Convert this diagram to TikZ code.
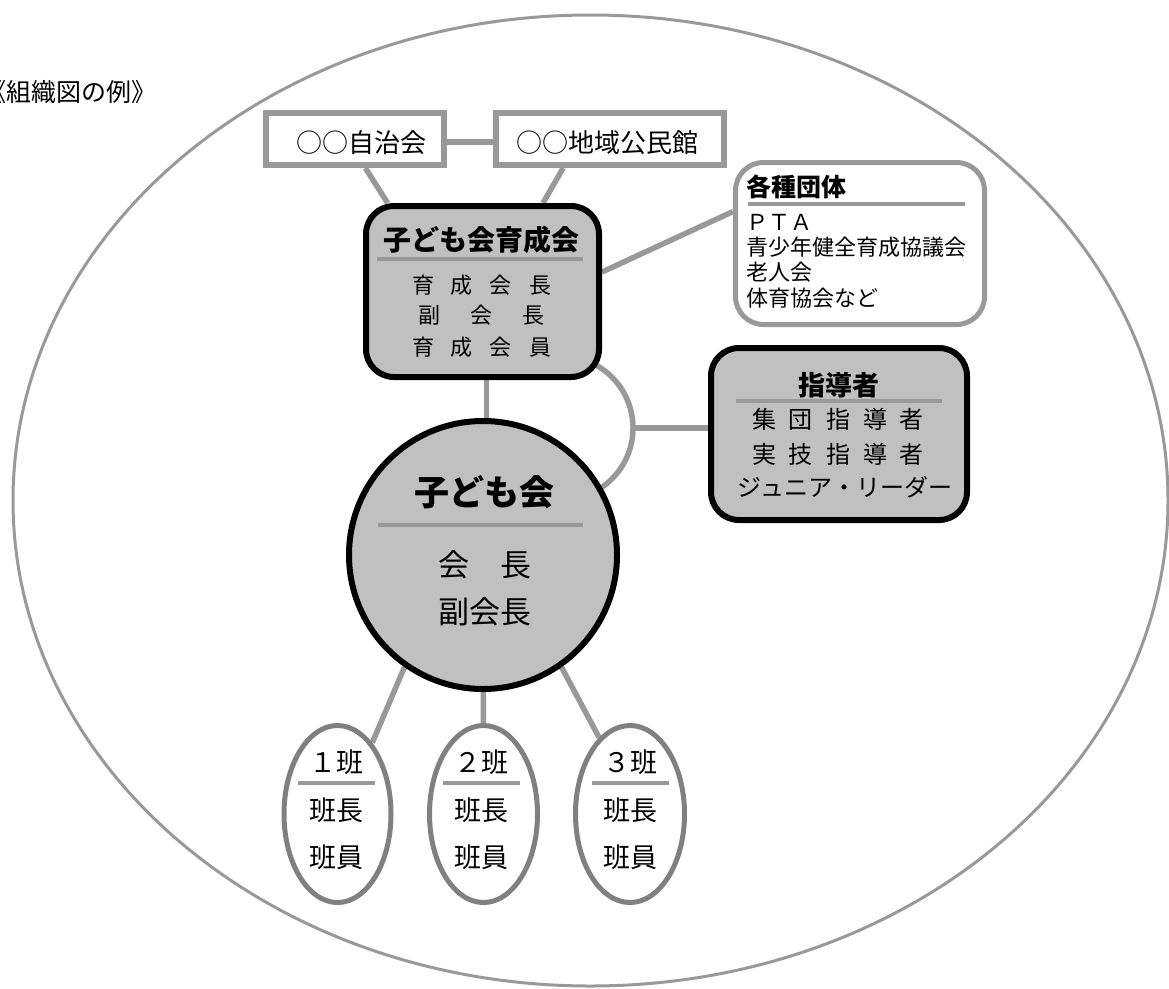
\documentclass[tikz,border=0pt]{standalone}
\usepackage{fontspec}
\setmainfont{Noto Sans CJK JP}
\usetikzlibrary{shapes.geometric,calc,backgrounds}
\definecolor{lg}{HTML}{999999}
\definecolor{eg}{HTML}{808080}
\definecolor{boxfill}{HTML}{C0C0C0}
\begin{document}
\begin{tikzpicture}[x=1pt,y=-1pt,
  fs/.style={font=\fontsize{#1}{#1}\selectfont},
  fb/.style={font=\fontsize{#1}{#1}\selectfont\bfseries},
  txt/.style={inner sep=0pt, anchor=base},
  txtl/.style={inner sep=0pt, anchor=base west},
  sqbox/.style={draw=lg, line width=6pt, fill=white, rectangle, inner sep=0pt},
  rbox/.style={draw=black, line width=6pt, fill=boxfill, rounded corners=28pt, rectangle, inner sep=0pt},
  wbox/.style={draw=lg, line width=5pt, fill=white, rounded corners=28pt, rectangle, inner sep=0pt},
  hanbox/.style={draw=eg, line width=5pt, fill=white, ellipse, inner sep=0pt, minimum width=107pt, minimum height=177pt},
  conn/.style={draw=lg, line width=5.5pt},
  sepline/.style={draw=lg, line width=4pt}
]
\useasboundingbox (0,0) rectangle (1169,988);

% outer frame
\node[ellipse, draw=lg, line width=3pt, minimum width=1155pt, minimum height=971pt, inner sep=0pt] (frame) at (590.5,500.5) {};

% boxes
\node[sqbox, minimum width=178pt, minimum height=52pt] (jichi) at (355,139) {};
\node[sqbox, minimum width=228pt, minimum height=52pt] (kouminkan) at (610,139) {};
\node[rbox, minimum width=233pt, minimum height=171pt] (ikusei) at (482.5,291.5) {};
\node[wbox, minimum width=249pt, minimum height=162pt] (kakushu) at (860,243.5) {};
\node[rbox, minimum width=256pt, minimum height=172pt] (shido) at (839,434) {};
\node[circle, draw=black, line width=6pt, fill=boxfill, minimum size=268pt, inner sep=0pt] (kodomo) at (483,555) {};
\node[hanbox] (han1) at (337.5,814) {};
\node[hanbox, minimum width=108pt] (han2) at (483.5,814) {};
\node[hanbox, minimum width=109pt] (han3) at (630,814) {};

% connectors
\begin{scope}[on background layer]
\draw[conn] ($(jichi.east)+(0,3)$) -- ($(kouminkan.west)+(0,3)$);
\draw[conn] ($(jichi.south west)!0.556!(jichi.south east)$) -- ($(ikusei.north west)!0.103!(ikusei.north east)$);
\draw[conn] ($(kouminkan.south west)!0.30!(kouminkan.south east)$) -- ($(ikusei.north west)!0.753!(ikusei.north east)$);
\draw[conn] ($(ikusei.east)+(0,-19.5)$) -- ($(kakushu.west)+(0,-32)$);
\coordinate (v1) at ($(ikusei.south)+(4,0)$);
\draw[conn] (v1) -- (v1 |- kodomo.center);
\coordinate (arcc) at (561,428);
\draw[conn] ($(arcc)+(-60:72)$) arc[start angle=-60, end angle=58, radius=72];
\coordinate (arcm) at ($(arcc)+(72,0)$);
\draw[conn] (arcm) -- (arcm -| shido.center);
\draw[conn] (kodomo.235) -- (han1.64);
\draw[conn] (kodomo.center) -- (han2.center);
\draw[conn] (kodomo.305) -- (han3.112);
\end{scope}

% texts
\node[txtl, fs=25] (title) at (-19,101.5) {《組織図の例》};
\node[txt, fs=26] (tj) at (361,152) {○○自治会};
\node[txt, fs=26] (tk) at (607,152) {○○地域公民館};

\node[txt, fb=28] (ti) at (481,250.6) {子ども会育成会};
\draw[sepline] (377,259) -- (583,259);
\node[txt, fs=22] (ti1) at (481.5,293.4) {育\hspace{17pt}成\hspace{17pt}会\hspace{17pt}長};
\node[txt, fs=22] (ti2) at (481.5,323.4) {副\hspace{30pt}会\hspace{30pt}長};
\node[txt, fs=22] (ti3) at (481.5,355.4) {育\hspace{17pt}成\hspace{17pt}会\hspace{17pt}員};

\node[txtl, fb=25] (tkt) at (746.5,196.5) {各種団体};
\draw[sepline] (748,204) -- (965,204);
\node[txtl, fs=22] (tk1) at (746.5,230.4) {ＰＴＡ};
\node[txtl, fs=22] (tk2) at (746.5,255.4) {青少年健全育成協議会};
\node[txtl, fs=22] (tk3) at (746.5,280.4) {老人会};
\node[txtl, fs=22] (tk4) at (746.5,306.4) {体育協会など};

\node[txt, fb=27] (ts) at (839,395.3) {指導者};
\draw[sepline] (736,401) -- (942,401);
\node[txt, fs=24] (ts1) at (838,428) {集\hspace{13pt}団\hspace{13pt}指\hspace{13pt}導\hspace{13pt}者};
\node[txt, fs=24] (ts2) at (838,463) {実\hspace{13pt}技\hspace{13pt}指\hspace{13pt}導\hspace{13pt}者};
\node[txt, fs=24] (ts3) at (845,496) {ジュニア・リーダー};

\node[txt, fb=35] (tc) at (484,505.3) {子ども会};
\draw[sepline] (378,525) -- (583,525);
\node[txt, fs=31] (tc1) at (485,576.8) {会　長};
\node[txt, fs=31] (tc2) at (485,623.8) {副会長};

\foreach \i/\c/\d in {1/336.5/１, 2/481.5/２, 3/630/３} {
  \node[txt, fs=27] (h\i t) at (\c,772.3) {\d 班};
  \draw[sepline] (\c-38.5,783) -- (\c+38.5,783);
  \node[txt, fs=27] (h\i a) at (\c,820.3) {班長};
  \node[txt, fs=27] (h\i b) at (\c,867.3) {班員};
}
\end{tikzpicture}
\end{document}
